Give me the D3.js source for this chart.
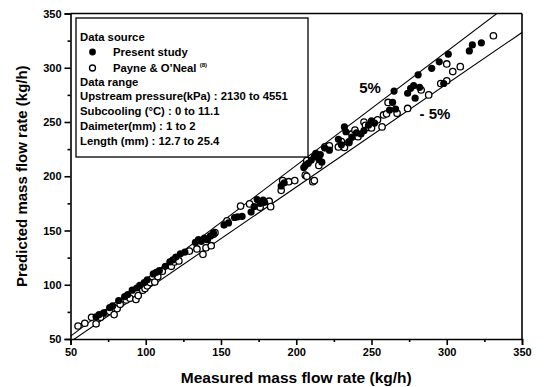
<!DOCTYPE html>
<html>
<head>
<meta charset="utf-8">
<script src="https://cdn.jsdelivr.net/npm/d3@7"></script>
<style>
  body { margin: 0; background: #fff; }
  svg text { font-family: "Liberation Sans", Arial, sans-serif; font-weight: bold; fill: #000; }
</style>
</head>
<body>
<div id="chart"></div>
<script>
// measured (x) vs predicted (y), kg/h
const presentMeasured  = [67, 69, 72, 76, 78, 82, 86, 88, 91, 94, 96, 99, 101, 105, 107, 109, 113, 116, 118, 120, 123, 126, 133, 135, 137, 139, 141, 143, 145, 152, 155, 159, 161, 164, 170, 172, 174, 176, 178, 179, 190, 192, 205, 206, 208, 210, 212, 213, 215, 216, 217, 219, 222, 228, 230, 232, 233, 235, 237, 240, 243, 245, 248, 250, 252, 262, 264, 265, 266, 274, 276, 278, 279, 281, 282, 290, 295, 298, 301, 315, 317, 323];
const presentPredicted = [70.5, 72.5, 74, 79, 80.5, 85.5, 89, 91, 95, 97, 99.5, 102, 104.5, 110, 111.5, 113, 117, 121, 123, 125.5, 128.5, 130, 139, 141.5, 140, 143, 141.5, 145, 147.5, 155, 157, 162, 162.5, 163, 167, 172, 178.5, 175, 178, 176, 191, 194, 208, 210, 212, 215, 218, 221, 216, 220, 213, 226, 224, 234, 229, 245.5, 241, 232, 236, 240, 239, 242, 247, 251, 249, 261, 268, 278.5, 262, 276.5, 281, 283.5, 272, 293.5, 282, 299.5, 305.5, 285.5, 312.5, 315.5, 321, 323];

const payneMeasured  = [55, 59.5, 64, 67, 70, 73.5, 76, 79, 81, 83, 87, 89.5, 93.5, 95, 98, 99.5, 101, 103, 106, 108, 111, 117, 119, 122, 129, 134, 138, 140, 143.5, 145, 146, 154, 163, 169, 176, 182, 183, 190, 191, 195, 199, 206, 207, 207, 211, 212, 215, 219, 222, 228, 230, 232, 235, 237, 239, 241, 245, 246, 248, 250, 254, 257, 258, 260, 261, 267, 274, 283, 288, 296, 300, 300, 304, 309, 331];
const paynePredicted = [62, 64.5, 70, 64, 70, 74, 75.5, 72.5, 78, 82, 86, 87.5, 86.5, 90, 95, 96.5, 99, 102, 102.5, 107.5, 112.5, 117, 121, 122, 131, 133, 128, 134, 136, 146.5, 148, 159, 172.5, 174.5, 171.5, 177, 172, 187, 196, 195, 196, 201, 200, 214.5, 195, 196, 210, 227, 228, 227, 232, 226.5, 231, 239, 242.5, 236.5, 250, 247, 245, 244.5, 252, 245.5, 256.5, 257.5, 268, 258, 262.5, 279.5, 275, 285.5, 288, 303.5, 296.5, 301, 329.5];

const majorTicks = [50, 100, 150, 200, 250, 300, 350];
const minorTicks = [75, 125, 175, 225, 275, 325];
const bandFactors = [1.05, 0.95];

const legendLines = [
  'Data range',
  'Upstream pressure(kPa) : 2130 to 4551',
  'Subcooling (\u00B0C) : 0 to 11.1',
  'Daimeter(mm) : 1 to 2',
  'Length (mm) : 12.7 to 25.4'
];

const width = 545, height = 387;
const margin = { left: 70.5, right: 23, top: 13.5, bottom: 48 };

const svg = d3.select('#chart').append('svg')
  .attr('width', width)
  .attr('height', height);

const x = d3.scaleLinear().domain([50, 350]).range([margin.left, width - margin.right]);
const y = d3.scaleLinear().domain([50, 350]).range([height - margin.bottom, margin.top]);

svg.append('clipPath').attr('id', 'plot-clip')
  .append('rect')
  .attr('x', x(50)).attr('y', y(350))
  .attr('width', x(350) - x(50)).attr('height', y(50) - y(350));

// +/- 5% lines
const band = svg.append('g').attr('clip-path', 'url(#plot-clip)');
bandFactors.forEach(f => {
  band.append('line')
    .attr('x1', x(40)).attr('y1', y(40 * f))
    .attr('x2', x(360)).attr('y2', y(360 * f))
    .style('stroke', '#000')
    .style('stroke-width', 1.1);
});

// points
const present = presentMeasured.map((m, i) => [m, presentPredicted[i]]);
const payne = payneMeasured.map((m, i) => [m, paynePredicted[i]]);

svg.append('g').selectAll('circle')
  .data(payne)
  .enter()
  .append('circle')
  .attr('cx', d => x(d[0]))
  .attr('cy', d => y(d[1]))
  .attr('r', 3.2)
  .style('fill', '#fff')
  .style('stroke', '#000')
  .style('stroke-width', 1.3);

svg.append('g').selectAll('circle')
  .data(present)
  .enter()
  .append('circle')
  .attr('cx', d => x(d[0]))
  .attr('cy', d => y(d[1]))
  .attr('r', 3.6)
  .style('fill', '#000');

// frame
svg.append('line')
  .attr('x1', x(50)).attr('x2', x(350)).attr('y1', y(350)).attr('y2', y(350))
  .style('stroke', '#000').style('stroke-width', 1.6);
svg.append('line')
  .attr('x1', x(350)).attr('x2', x(350)).attr('y1', y(350)).attr('y2', y(50))
  .style('stroke', '#000').style('stroke-width', 1.6);

// axes
const xAxis = d3.axisBottom(x).tickValues(majorTicks).tickSize(6).tickPadding(3);
const yAxis = d3.axisLeft(y).tickValues(majorTicks).tickSize(6).tickPadding(3);

svg.append('g').attr('transform', `translate(0,${y(50)})`).call(xAxis);
svg.append('g').attr('transform', `translate(${x(50)},0)`).call(yAxis);

svg.append('g').attr('transform', `translate(0,${y(50)})`)
  .call(d3.axisBottom(x).tickValues(minorTicks).tickSize(3).tickFormat(''))
  .select('.domain').remove();
svg.append('g').attr('transform', `translate(${x(50)},0)`)
  .call(d3.axisLeft(y).tickValues(minorTicks).tickSize(3).tickFormat(''))
  .select('.domain').remove();

svg.selectAll('.domain, .tick line')
  .attr('stroke', '#000')
  .attr('stroke-width', 1.6);

svg.selectAll('.tick text')
  .style('font-size', '11px')
  .style('font-family', '"Liberation Sans", Arial, sans-serif')
  .style('font-weight', 'bold');

// axis titles
svg.append('text')
  .attr('x', (x(50) + x(350)) / 2)
  .attr('y', 383)
  .attr('text-anchor', 'middle')
  .style('font-size', '15.5px')
  .text('Measured mass flow rate (kg/h)');

svg.append('text')
  .attr('transform', `translate(27,${(y(50) + y(350)) / 2}) rotate(-90)`)
  .attr('text-anchor', 'middle')
  .style('font-size', '15px')
  .text('Predicted mass flow rate (kg/h)');

// band labels
svg.append('text')
  .attr('x', 370).attr('y', 93)
  .attr('text-anchor', 'middle')
  .style('font-size', '15px')
  .text('5%');
svg.append('text')
  .attr('x', 435).attr('y', 119)
  .attr('text-anchor', 'middle')
  .style('font-size', '15px')
  .text('- 5%');

// legend box
const lg = svg.append('g');
lg.append('rect')
  .attr('x', 76).attr('y', 18)
  .attr('width', 232).attr('height', 139)
  .style('fill', '#fff')
  .style('stroke', '#000')
  .style('stroke-width', 1.3);

lg.append('text').attr('x', 80).attr('y', 40.5)
  .style('font-size', '11.3px').text('Data source');

lg.append('circle').attr('cx', 92.5).attr('cy', 52).attr('r', 3.4).style('fill', '#000');
lg.append('text').attr('x', 113).attr('y', 55.8)
  .style('font-size', '11.3px').text('Present study');

lg.append('circle').attr('cx', 92.5).attr('cy', 68).attr('r', 3)
  .style('fill', '#fff').style('stroke', '#000').style('stroke-width', 1.3);
const pt = lg.append('text').attr('x', 113).attr('y', 71.8)
  .style('font-size', '11.3px');
pt.append('tspan').text('Payne & O\u2019Neal ');
pt.append('tspan').attr('dy', -5).style('font-size', '6px').text('(8)');

legendLines.forEach((t, i) => {
  lg.append('text')
    .attr('x', 80)
    .attr('y', 85.5 + i * 14.8)
    .style('font-size', '11.3px')
    .text(t);
});
</script>
</body>
</html>
